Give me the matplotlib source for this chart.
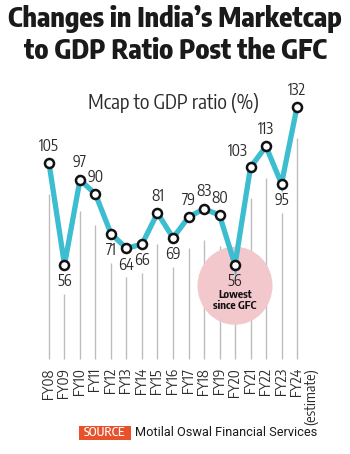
import matplotlib.pyplot as plt
from matplotlib.patches import Ellipse, Rectangle

years = ["FY08", "FY09", "FY10", "FY11", "FY12", "FY13", "FY14", "FY15", "FY16",
         "FY17", "FY18", "FY19", "FY20", "FY21", "FY22", "FY23", "FY24"]
ratio = [105, 56, 97, 90, 71, 64, 66, 81, 69, 79, 83, 80, 56, 103, 113, 95, 132]
label_pos = ["above", "below", "above", "above", "below", "below", "below", "above",
             "below", "above", "above", "above", "below", "aboveleft", "above", "below", "above"]

TEAL = "#3dbdd0"
GRAY = "#bdbdbd"
TXT = "#2b2b2b"
COND = ["Encode Sans Condensed", "DejaVu Sans"]

fig = plt.figure(figsize=(3.5, 4.54), dpi=100)
ax = fig.add_axes([0, 0, 1, 1])
ax.set_xlim(-3.161, 19.419)
ax.set_ylim(-34.9, 183.4)
ax.axis("off")

x = list(range(len(years)))

# gray drop lines
for xi, v, p in zip(x, ratio, label_pos):
    top = v - 15 if p != "below" else v - 14
    ax.plot([xi, xi], [10.8, top], color=GRAY, lw=1.0, zorder=1, solid_capstyle="butt")

# highlight circle at FY20
ax.add_patch(Ellipse((12, 46), 75 / 15.5, 78 / 2.08, facecolor="#f2c8cc",
                     edgecolor="none", zorder=2))

ax.plot(x, ratio, color=TEAL, lw=3.8, zorder=3, solid_joinstyle="miter")
ax.plot(x, ratio, "o", ms=6.5, mfc="white", mec="#111111", mew=1.8, zorder=4)

for xi, v, p in zip(x, ratio, label_pos):
    if p == "above":
        ax.text(xi, v + 4, str(v), ha="center", va="bottom", fontsize=11,
                family=COND, color=TXT, zorder=5)
    elif p == "aboveleft":
        ax.text(xi - 0.85, v + 3.5, str(v), ha="center", va="bottom", fontsize=11,
                family=COND, color=TXT, zorder=5)
    else:
        ax.text(xi, v - 4, str(v), ha="center", va="top", fontsize=11,
                family=COND, color=TXT, zorder=5)

ax.text(12, 44.3, "Lowest\nsince GFC", ha="center", va="top", fontsize=8,
        fontweight="bold", family=COND, color="#111111", linespacing=0.95, zorder=5)

for xi, yl in zip(x, years):
    ax.text(xi, 6.4, yl, ha="center", va="top", rotation=90, fontsize=10.5,
            family=COND, color=TXT)
ax.text(x[-1] + 0.9, 6.4, "(estimate)", ha="center", va="top", rotation=90,
        fontsize=10.5, family=COND, color=TXT)

fig.text(0.5, 0.99, "Changes in India\u2019s Marketcap\nto GDP Ratio Post the GFC",
         ha="center", va="top", fontsize=19.5, fontweight=800, family=COND,
         color="#1a1a1a", linespacing=1.2)
fig.text(0.497, 0.773, "Mcap to GDP ratio (%)", ha="center", va="center",
         fontsize=14.3, family=COND, color=TXT)

# source line
fig.patches.append(Rectangle((79 / 350, 1 - 440 / 454), 52 / 350, 14 / 454,
                             transform=fig.transFigure, facecolor="#e9512b",
                             edgecolor="none", figure=fig))
fig.text(105 / 350, 1 - 433 / 454, "SOURCE", ha="center", va="center", fontsize=9,
         family=COND, fontweight=500, color="white")
fig.text(135 / 350, 1 - 433 / 454, "Motilal Oswal Financial Services", ha="left",
         va="center", fontsize=9.2, family="Roboto", color="#1a1a1a")

fig.savefig("out.png", dpi=100, facecolor="white")
